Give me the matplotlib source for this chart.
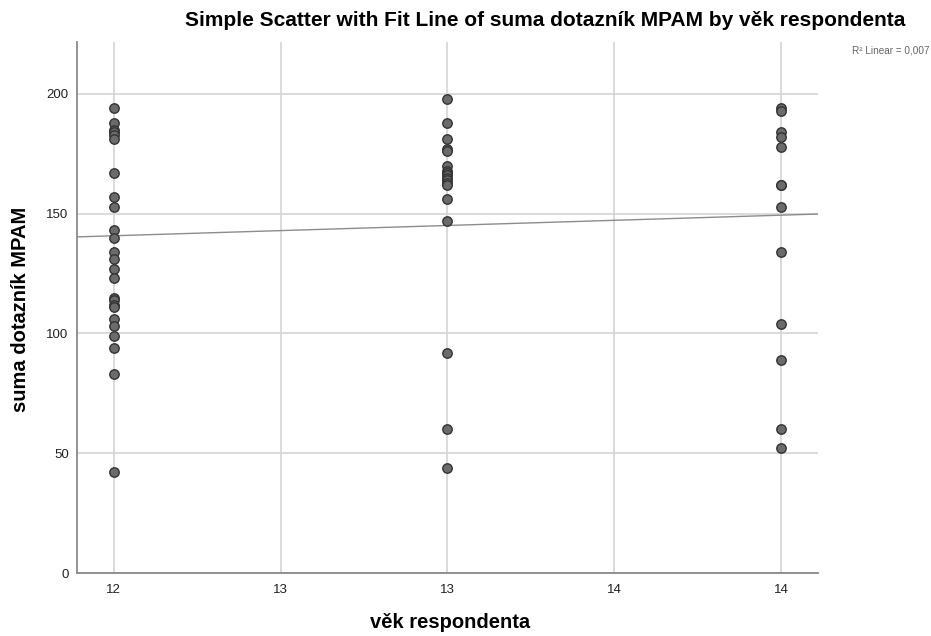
import numpy as np
from matplotlib import pyplot as plt

plt.rcParams['font.family'] = ['Liberation Sans', 'DejaVu Sans']

# values, one list per age group
AGE_12 = [194, 188, 185, 184, 183, 181, 167, 157, 153, 143, 140, 134, 131,
          127, 123, 115, 114, 112, 111, 106, 103, 99, 94, 83, 42]
AGE_13 = [198, 188, 181, 177, 176, 170, 168, 167, 166, 165, 164, 163, 162,
          156, 147, 92, 60, 44]
AGE_14 = [194, 193, 184, 182, 178, 162, 162, 153, 134, 104, 89, 60, 52]

# fit line as drawn in the reference (value at age 12 and slope per year)
FIT_AT_12 = 140.8
FIT_SLOPE = 4.3

X_TICKS = [12, 12.5, 13, 13.5, 14]
X_TICK_LABELS = ['12', '13', '13', '14', '14']
Y_TICKS = [0, 50, 100, 150, 200]

TITLE = 'Simple Scatter with Fit Line of suma dotazník MPAM by věk respondenta'
R2_TEXT = 'R² Linear = 0,007'


def build_points():
    ages = []
    scores = []
    for age, values in ((12, AGE_12), (13, AGE_13), (14, AGE_14)):
        ages += [age] * len(values)
        scores += values
    return np.array(ages), np.array(scores)


def create_plot(ages, scores):
    fig = plt.figure(figsize=(9.31, 6.36), dpi=100)
    ax = fig.add_axes([0.0827, 0.099, 0.7959, 0.835])

    ax.set_xlim(11.89, 14.11)
    ax.set_ylim(0, 221.7)

    ax.grid(True, color='#d4d4d4', linewidth=1.2)
    ax.set_axisbelow(True)

    ax.scatter(ages, scores, s=46, facecolor='#6b6b6b', edgecolor='#333333',
               linewidth=1.0, zorder=3)

    x_line = np.array(ax.get_xlim())
    ax.plot(x_line, FIT_AT_12 + FIT_SLOPE * (x_line - 12), color='#8c8c8c',
            linewidth=1.0, zorder=2)

    ax.set_xticks(X_TICKS)
    ax.set_xticklabels(X_TICK_LABELS)
    ax.set_yticks(Y_TICKS)
    ax.tick_params(axis='x', length=0, labelsize=9.5, labelcolor='#222222', pad=8)
    ax.tick_params(axis='y', length=0, labelsize=9.5, labelcolor='#222222', pad=6)

    for side in ('top', 'right'):
        ax.spines[side].set_visible(False)
    for side in ('left', 'bottom'):
        ax.spines[side].set_color('#8a8a8a')
        ax.spines[side].set_linewidth(1.3)

    fig.text(0.4833, 0.022, 'věk respondenta', ha='center', va='center',
             fontsize=14.5, fontweight='bold')
    fig.text(0.0215, 0.513, 'suma dotazník MPAM', ha='center', va='center',
             rotation=90, fontsize=14.5, fontweight='bold')

    fig.text(0.586, 0.967, TITLE, ha='center', va='center', fontsize=15,
             fontweight='bold')
    fig.text(0.998, 0.921, R2_TEXT, ha='right', va='center', fontsize=7.2,
             color='#666666')

    fig.savefig('out.png', dpi=100)


if __name__ == '__main__':
    ages, scores = build_points()
    create_plot(ages, scores)
